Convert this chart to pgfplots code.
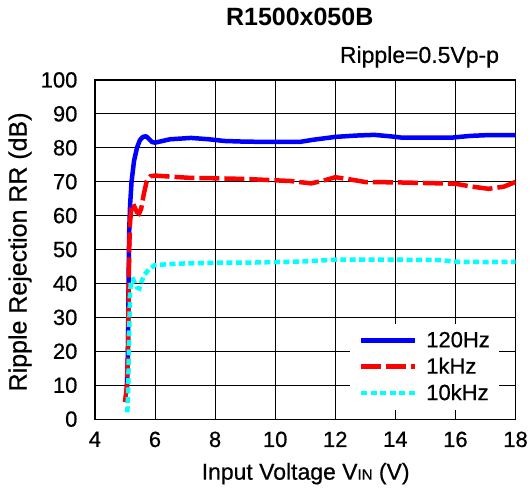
\documentclass[border=0pt]{standalone}
\usepackage{fontspec}
\setmainfont{Liberation Sans}
\newfontfamily\semib{Liberation Sans}[BoldFont={Liberation Sans}, BoldFeatures={FakeBold=0.6}]
\usepackage{pgfplots}
\pgfplotsset{compat=1.18}
\definecolor{cyn}{RGB}{0,255,255}

\begin{document}
\begin{tikzpicture}
    \begin{axis}[
        scale only axis,
        width=421pt, height=339.5pt,
        xmin=4, xmax=18,
        ymin=0, ymax=100,
        xtick={4,6,...,18},
        ytick={0,10,...,100},
        grid=major,
        grid style={black, line width=0.9pt},
        axis line style={black, line width=1.2pt},
        major tick length=0pt,
        /pgf/number format/assume math mode=true,
        tick label style={font=\semib\bfseries\fontsize{22}{22}\selectfont},
        xticklabel style={yshift=-9pt},
        yticklabel style={xshift=-14pt},
        xlabel={Input Voltage V{\fontsize{15}{15}\selectfont IN} (V)},
        ylabel={Ripple Rejection RR (dB)},
        xlabel style={font=\semib\bfseries\fontsize{23}{23}\selectfont,
            at={(axis description cs:0.501,-0.161)}, anchor=center},
        ylabel style={font=\semib\bfseries\fontsize{25}{25}\selectfont,
            at={(axis description cs:-0.178,0.493)}, anchor=center},
        legend style={
            at={(axis description cs:0.6057,0.2813)}, anchor=north west,
            draw=none, fill=white,
            inner xsep=9pt, inner ysep=8pt,
            nodes={inner sep=0pt},
            column sep=9pt, row sep=9pt,
            font=\semib\bfseries\fontsize{22}{22}\selectfont,
        },
        legend cell align=left,
        legend image code/.code={\draw[#1] (0pt,0pt) -- (54pt,0pt);},
    ]

    % 120Hz
    \addplot[color=blue, line width=4.5pt, line join=round] coordinates {
        (5.06,8)(5.10,20)(5.12,40)(5.14,55)(5.17,63)(5.22,70)(5.30,76)
        (5.40,80)(5.50,82.3)(5.60,83.2)(5.70,83.4)(5.80,82.6)(5.90,81.7)
        (6.00,81.5)(6.5,82.5)(7.2,82.9)(7.8,82.5)(8.3,82.0)(9,81.8)
        (10,81.7)(10.8,81.7)(11.3,82.4)(12,83.2)(12.7,83.6)(13.3,83.8)
        (13.8,83.4)(14.2,83.0)(15,83.0)(15.9,83.0)(16.5,83.5)(17,83.7)(18,83.7)
    };
    \addlegendentry{120Hz}

    % 1kHz
    \addplot[color=red, line width=4.5pt, dash pattern=on 20pt off 5pt] coordinates {
        (5.00,5)(5.07,10)(5.10,20)(5.12,35)(5.14,50)(5.17,58)(5.22,63)
        (5.27,63.5)(5.32,62.5)(5.40,61)(5.47,60.6)(5.54,62)(5.62,66)
        (5.72,70)(5.85,71.6)(6.0,71.8)(6.5,71.5)(7.2,71.1)(8,71.0)(9,70.8)
        (10,70.4)(10.5,70.2)(11.2,69.5)(11.6,70.3)(12.0,71.3)(12.4,70.8)
        (13,69.9)(14,69.8)(15,69.6)(16,69.4)(16.5,68.6)(17.1,67.9)(17.6,68.5)(18,69.9)
    };
    \addlegendentry{1kHz}

    % 10kHz
    \addplot[color=cyn, line width=4.5pt, dash pattern=on 6pt off 3.5pt] coordinates {
        (5.08,2)(5.11,10)(5.13,20)(5.15,30)(5.17,37)(5.20,41)(5.27,41.2)
        (5.40,38.8)(5.48,38.5)(5.55,40.5)(5.65,42.5)(5.80,44.2)(6.0,45.4)
        (6.5,45.7)(7,45.9)(8,46.1)(9,46.1)(10,46.3)(11,46.5)(12,47.0)
        (14,47.0)(15.5,46.9)(16,46.4)(17,46.3)(18,46.4)
    };
    \addlegendentry{10kHz}

    \coordinate (bl) at (rel axis cs:0,0);
    \coordinate (tr) at (rel axis cs:1,1);
    \end{axis}
    \node[font=\bfseries\fontsize{25}{25}\selectfont, anchor=center]
        at ([xshift=205pt,yshift=402.5pt]bl) {R1500x050B};
    \node[font=\semib\bfseries\fontsize{23}{23}\selectfont, anchor=east]
        at ([xshift=408pt,yshift=362.5pt]bl) {Ripple=0.5Vp-p};
    \pgfresetboundingbox
    \path[use as bounding box] ([xshift=-95pt,yshift=-72.5pt]bl) rectangle ([xshift=15.5pt,yshift=80pt]tr);
\end{tikzpicture}
\end{document}
